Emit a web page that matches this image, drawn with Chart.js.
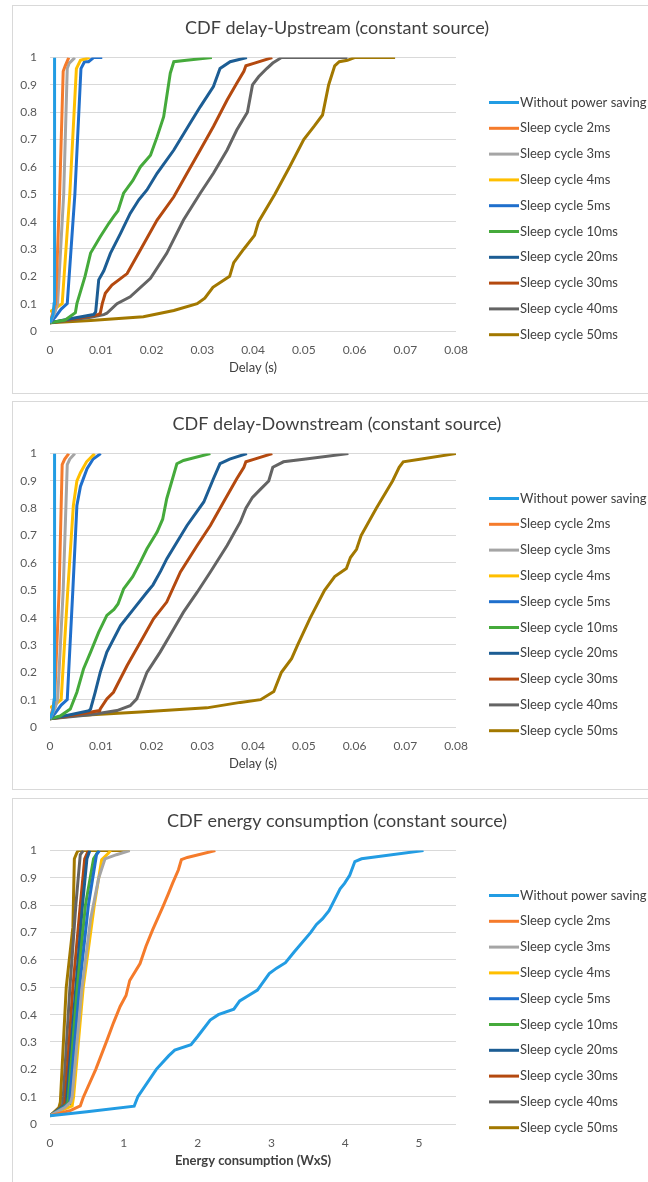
<!DOCTYPE html>
<html>
<head>
<meta charset="utf-8">
<script src="https://cdn.jsdelivr.net/npm/chart.js@4.4.1/dist/chart.umd.min.js"></script>
<style>
  body { margin: 0; width: 648px; height: 1182px; overflow: hidden; background: #fff; }
  .box { position: absolute; left: 12px; width: 648px; height: 387px; border: 1px solid #d9d9d9; background: #fff; }
  canvas { display: block; }
</style>
</head>
<body>
<div class="box" style="top:5px"><canvas id="upChart"></canvas></div>
<div class="box" style="top:401px"><canvas id="downChart"></canvas></div>
<div class="box" style="top:798px"><canvas id="energyChart"></canvas></div>
<script>
const seriesNames = ['Without power saving', 'Sleep cycle 2ms', 'Sleep cycle 3ms', 'Sleep cycle 4ms', 'Sleep cycle 5ms',
  'Sleep cycle 10ms', 'Sleep cycle 20ms', 'Sleep cycle 30ms', 'Sleep cycle 40ms', 'Sleep cycle 50ms'];
const seriesColors = ['#229ce3', '#f57b2b', '#a5a5a5', '#ffbf00', '#1f6fcc',
  '#45aa3b', '#1c5d94', '#b4490f', '#646464', '#a27800'];

const delayTicks = [0, 0.01, 0.02, 0.03, 0.04, 0.05, 0.06, 0.07, 0.08];
const energyTicks = [0, 1, 2, 3, 4, 5];

// upstream delay CDF, [delay s, probability]
const upNoPS = [[0, 0.03], [0.0006, 0.06], [0.0008, 0.1], [0.0009, 0.5], [0.0009, 1]];
const up2ms = [[0, 0.03], [0.0006, 0.07], [0.0011, 0.1], [0.0019, 0.5], [0.0026, 0.95], [0.003, 0.97], [0.0037, 1]];
const up3ms = [[0, 0.03], [0.001, 0.07], [0.0015, 0.1], [0.0027, 0.5], [0.0034, 0.96], [0.0038, 0.98], [0.0049, 1]];
const up4ms = [[0, 0.07], [0.0012, 0.085], [0.0024, 0.1], [0.0039, 0.5], [0.0052, 0.96], [0.006, 0.99], [0.0078, 1]];
const up5ms = [[0, 0.03], [0.001, 0.05], [0.0022, 0.08], [0.0034, 0.1], [0.0049, 0.5], [0.0061, 0.96], [0.0068, 0.985],
  [0.0076, 0.985], [0.0086, 1], [0.0103, 1]];
const up10ms = [[0, 0.03], [0.003, 0.04], [0.005, 0.067], [0.0053, 0.1], [0.0069, 0.2], [0.008, 0.285], [0.0099, 0.345],
  [0.0116, 0.394], [0.0126, 0.42], [0.0134, 0.44], [0.0145, 0.504], [0.0163, 0.55], [0.0178, 0.6], [0.0198, 0.643],
  [0.0211, 0.71], [0.0224, 0.784], [0.0237, 0.943], [0.0244, 0.985], [0.0269, 0.99], [0.0319, 1]];
const up20ms = [[0, 0.03], [0.004, 0.045], [0.0086, 0.06], [0.009, 0.07], [0.0096, 0.187], [0.0106, 0.22], [0.0119, 0.284],
  [0.0139, 0.357], [0.0158, 0.43], [0.0175, 0.48], [0.0191, 0.516], [0.0211, 0.577], [0.0244, 0.662], [0.0276, 0.76],
  [0.0296, 0.82], [0.0322, 0.894], [0.0335, 0.96], [0.0355, 0.985], [0.0388, 1]];
const up30ms = [[0, 0.03], [0.005, 0.045], [0.0095, 0.06], [0.0099, 0.065], [0.0103, 0.1], [0.0109, 0.138], [0.0122, 0.168],
  [0.0152, 0.21], [0.0178, 0.296], [0.0211, 0.406], [0.0244, 0.491], [0.027, 0.577], [0.0296, 0.662], [0.0322, 0.748],
  [0.0349, 0.845], [0.0368, 0.906], [0.0382, 0.95], [0.0386, 0.97], [0.0403, 0.98], [0.0438, 1]];
const up40ms = [[0, 0.03], [0.008, 0.05], [0.0106, 0.06], [0.0112, 0.065], [0.0132, 0.1], [0.0158, 0.125], [0.0198, 0.193],
  [0.023, 0.284], [0.0263, 0.406], [0.0296, 0.504], [0.0322, 0.577], [0.0349, 0.662], [0.0368, 0.735], [0.0389, 0.8],
  [0.0399, 0.9], [0.0411, 0.93], [0.0427, 0.96], [0.0439, 0.98], [0.0456, 1], [0.0586, 1]];
const up50ms = [[0, 0.03], [0.008, 0.038], [0.0184, 0.052], [0.0244, 0.075], [0.029, 0.1], [0.0305, 0.12], [0.0321, 0.16],
  [0.0354, 0.2], [0.0362, 0.25], [0.0382, 0.3], [0.0403, 0.35], [0.0411, 0.4], [0.0443, 0.5], [0.0472, 0.6], [0.05, 0.7],
  [0.0521, 0.75], [0.0537, 0.79], [0.0549, 0.9], [0.0561, 0.97], [0.057, 0.985], [0.0586, 0.99], [0.06, 1], [0.068, 1]];

// downstream delay CDF
const dnNoPS = [[0, 0.03], [0.0006, 0.06], [0.0008, 0.1], [0.0009, 0.5], [0.0009, 1]];
const dn2ms = [[0, 0.03], [0.0006, 0.07], [0.0009, 0.1], [0.0018, 0.5], [0.0024, 0.96], [0.0029, 0.98], [0.0037, 1]];
const dn3ms = [[0, 0.03], [0.001, 0.07], [0.0015, 0.1], [0.0026, 0.5], [0.0034, 0.96], [0.0039, 0.98], [0.0049, 1]];
const dn4ms = [[0, 0.07], [0.0012, 0.085], [0.0022, 0.1], [0.0035, 0.5], [0.0046, 0.81], [0.0053, 0.9], [0.006, 0.93],
  [0.0072, 0.97], [0.0088, 1]];
const dn5ms = [[0, 0.03], [0.001, 0.05], [0.0022, 0.08], [0.0034, 0.1], [0.0045, 0.5], [0.0053, 0.81], [0.006, 0.88],
  [0.0073, 0.945], [0.0085, 0.98], [0.01, 1]];
const dn10ms = [[0, 0.03], [0.002, 0.04], [0.004, 0.066], [0.0053, 0.127], [0.0066, 0.212], [0.008, 0.274], [0.0096, 0.347],
  [0.0112, 0.408], [0.0126, 0.43], [0.0134, 0.45], [0.0145, 0.505], [0.0163, 0.55], [0.0178, 0.603], [0.0191, 0.652],
  [0.0211, 0.713], [0.0222, 0.76], [0.023, 0.835], [0.025, 0.963], [0.0263, 0.975], [0.0316, 1]];
const dn20ms = [[0, 0.03], [0.004, 0.045], [0.0077, 0.06], [0.008, 0.066], [0.0089, 0.127], [0.0099, 0.2], [0.0112, 0.274],
  [0.0139, 0.371], [0.0165, 0.432], [0.0191, 0.493], [0.0203, 0.52], [0.0218, 0.57], [0.023, 0.615], [0.027, 0.737],
  [0.0303, 0.823], [0.0322, 0.908], [0.0335, 0.963], [0.0354, 0.98], [0.0388, 1]];
const dn30ms = [[0, 0.03], [0.005, 0.045], [0.0098, 0.06], [0.0099, 0.066], [0.0112, 0.103], [0.0125, 0.127], [0.0152, 0.225],
  [0.0178, 0.31], [0.0204, 0.396], [0.023, 0.457], [0.0257, 0.567], [0.029, 0.664], [0.0316, 0.737], [0.0342, 0.823],
  [0.0368, 0.908], [0.0382, 0.95], [0.0386, 0.97], [0.0403, 0.98], [0.0438, 1]];
const dn40ms = [[0, 0.03], [0.008, 0.045], [0.0132, 0.06], [0.0158, 0.078], [0.0171, 0.103], [0.0191, 0.2], [0.0217, 0.274],
  [0.0244, 0.359], [0.0263, 0.42], [0.029, 0.493], [0.0316, 0.567], [0.0349, 0.664], [0.0375, 0.75], [0.0386, 0.8],
  [0.0399, 0.84], [0.0415, 0.87], [0.0431, 0.9], [0.0439, 0.95], [0.046, 0.97], [0.0504, 0.98], [0.0588, 1]];
const dn50ms = [[0, 0.03], [0.0047, 0.041], [0.0178, 0.055], [0.0309, 0.07], [0.0375, 0.09], [0.0415, 0.1], [0.0441, 0.13],
  [0.0456, 0.2], [0.0476, 0.25], [0.0488, 0.3], [0.0513, 0.4], [0.0541, 0.5], [0.0561, 0.55], [0.0584, 0.58], [0.0592, 0.62],
  [0.0604, 0.65], [0.0613, 0.7], [0.0643, 0.8], [0.0675, 0.9], [0.0688, 0.95], [0.0696, 0.97], [0.0732, 0.98], [0.08, 1]];

// energy consumption CDF, [W x s, probability]
const enNoPS = [[0, 0.03], [0.5, 0.045], [1.14, 0.065], [1.19, 0.1], [1.44, 0.2], [1.61, 0.25], [1.69, 0.27], [1.91, 0.29],
  [2.0, 0.32], [2.17, 0.38], [2.28, 0.4], [2.49, 0.42], [2.57, 0.45], [2.69, 0.47], [2.81, 0.49], [2.97, 0.55], [3.07, 0.57],
  [3.19, 0.59], [3.31, 0.63], [3.53, 0.7], [3.61, 0.73], [3.69, 0.75], [3.78, 0.78], [3.93, 0.86], [3.99, 0.88],
  [4.06, 0.91], [4.13, 0.96], [4.22, 0.97], [5.06, 1]];
const en2ms = [[0, 0.03], [0.28, 0.05], [0.41, 0.066], [0.45, 0.097], [0.62, 0.2], [0.77, 0.305], [0.86, 0.37], [0.95, 0.43],
  [1.03, 0.47], [1.08, 0.525], [1.22, 0.587], [1.3, 0.65], [1.39, 0.71], [1.53, 0.795], [1.6, 0.84], [1.66, 0.88],
  [1.74, 0.93], [1.78, 0.967], [1.86, 0.975], [2.24, 1]];
const en3ms = [[0, 0.03], [0.2, 0.06], [0.28, 0.08], [0.3, 0.1], [0.43, 0.49], [0.55, 0.75], [0.66, 0.9], [0.745, 0.97],
  [0.9, 0.985], [1.08, 1]];
const en4ms = [[0, 0.03], [0.2, 0.055], [0.3, 0.066], [0.32, 0.1], [0.45, 0.5], [0.6, 0.8], [0.7, 0.967], [0.79, 0.99], [0.82, 1]];
const en5ms = [[0, 0.03], [0.18, 0.06], [0.26, 0.075], [0.27, 0.1], [0.4, 0.5], [0.52, 0.8], [0.63, 0.985], [0.67, 1]];
const en10ms = [[0, 0.03], [0.17, 0.06], [0.24, 0.075], [0.25, 0.1], [0.37, 0.5], [0.48, 0.8], [0.59, 0.97], [0.66, 1]];
const en20ms = [[0, 0.03], [0.16, 0.06], [0.22, 0.07], [0.23, 0.1], [0.35, 0.5], [0.44, 0.8], [0.5, 0.97], [0.54, 1]];
const en30ms = [[0, 0.03], [0.15, 0.06], [0.2, 0.07], [0.21, 0.1], [0.31, 0.5], [0.41, 0.8], [0.47, 0.97], [0.52, 1]];
const en40ms = [[0, 0.03], [0.14, 0.06], [0.17, 0.07], [0.18, 0.1], [0.27, 0.5], [0.35, 0.8], [0.41, 0.985], [0.45, 1]];
const en50ms = [[0, 0.03], [0.12, 0.06], [0.14, 0.08], [0.22, 0.5], [0.31, 0.72], [0.33, 0.97], [0.36, 0.99], [0.38, 1], [1.08, 1]];

const FONT = 'Lato, "Open Sans", sans-serif';

// legend drawn to the right of the plot, line sample touching the text like Excel does
const sideLegend = {
  id: 'sideLegend',
  afterDraw(chart) {
    const ctx = chart.ctx;
    ctx.save();
    ctx.font = '13px ' + FONT;
    ctx.textBaseline = 'middle';
    chart.data.datasets.forEach((ds, i) => {
      const y = 96.5 + i * 25.8;
      ctx.strokeStyle = ds.borderColor;
      ctx.lineWidth = 3;
      ctx.beginPath();
      ctx.moveTo(476, y);
      ctx.lineTo(506, y);
      ctx.stroke();
      ctx.fillStyle = '#404040';
      ctx.fillText(ds.label, 507, y);
    });
    ctx.restore();
  }
};

function makeChart(id, title, xTitle, xMax, xTicks, series, boldX) {
  const canvas = document.getElementById(id);
  canvas.width = 648;
  canvas.height = 387;
  new Chart(canvas, {
    type: 'scatter',
    data: {
      datasets: series.map((pts, i) => ({
        label: seriesNames[i],
        data: pts.map(p => ({ x: p[0], y: p[1] })),
        showLine: true,
        borderColor: seriesColors[i],
        backgroundColor: seriesColors[i],
        borderWidth: 3,
        pointRadius: 0,
        tension: 0
      }))
    },
    options: {
      responsive: false,
      animation: false,
      layout: { padding: 0 },
      plugins: {
        legend: { display: false },
        tooltip: { enabled: false },
        title: {
          display: true,
          text: title,
          color: '#404040',
          font: { family: FONT, size: 18, weight: 'normal' },
          padding: { top: 11, bottom: 19 }
        }
      },
      scales: {
        x: {
          type: 'linear',
          min: 0,
          max: xMax,
          afterFit: s => { s.height = 62; },
          afterBuildTicks: s => { s.ticks = xTicks.map(v => ({ value: v })); },
          grid: { display: false },
          border: { display: false },
          ticks: { color: '#595959', padding: 4, maxRotation: 0, font: { family: FONT, size: 12 } },
          title: {
            display: true,
            text: xTitle,
            color: '#404040',
            padding: { top: 0, bottom: 17 },
            font: { family: FONT, size: 13, weight: boldX ? 'bold' : 'normal' }
          }
        },
        y: {
          min: 0,
          max: 1,
          afterFit: s => { s.width = 37; },
          ticks: {
            stepSize: 0.1, color: '#595959', padding: 13, font: { family: FONT, size: 12 },
            callback: v => String(Math.round(v * 10) / 10)
          },
          grid: { color: '#d9d9d9', lineWidth: 1, drawTicks: false },
          border: { display: false }
        },
        // empty right-hand axis that only reserves room for the legend
        legendRoom: {
          type: 'linear',
          position: 'right',
          afterFit: s => { s.width = 205; },
          grid: { display: false },
          border: { display: false },
          ticks: { display: false }
        }
      }
    },
    plugins: [sideLegend]
  });
}

makeChart('upChart', 'CDF delay-Upstream (constant source)', 'Delay (s)', 0.08, delayTicks,
  [upNoPS, up2ms, up3ms, up4ms, up5ms, up10ms, up20ms, up30ms, up40ms, up50ms], false);
makeChart('downChart', 'CDF delay-Downstream (constant source)', 'Delay (s)', 0.08, delayTicks,
  [dnNoPS, dn2ms, dn3ms, dn4ms, dn5ms, dn10ms, dn20ms, dn30ms, dn40ms, dn50ms], false);
makeChart('energyChart', 'CDF energy consumption (constant source)', 'Energy consumption (WxS)', 5.5, energyTicks,
  [enNoPS, en2ms, en3ms, en4ms, en5ms, en10ms, en20ms, en30ms, en40ms, en50ms], true);
</script>
</body>
</html>
